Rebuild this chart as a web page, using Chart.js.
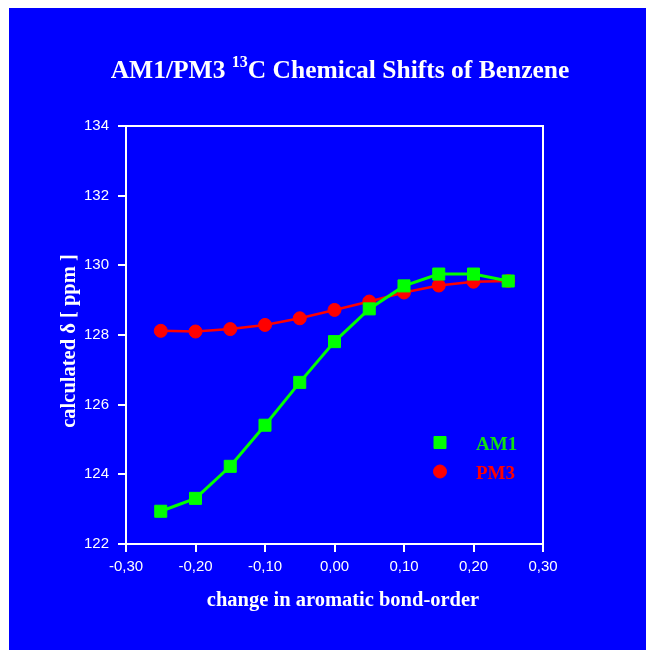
<!DOCTYPE html>
<html>
<head>
<meta charset="utf-8">
<script src="https://cdn.jsdelivr.net/npm/chart.js@4.4.0/dist/chart.umd.min.js"></script>
<style>
  html, body { margin: 0; padding: 0; background: #ffffff; }
  canvas { display: block; }
</style>
</head>
<body>
<canvas id="shifts" width="646" height="650"></canvas>
<script>
// change in aromatic bond-order
const bondOrder = [-0.25, -0.20, -0.15, -0.10, -0.05, 0.00, 0.05, 0.10, 0.15, 0.20, 0.25];
// calculated 13C shifts (ppm)
const am1Shift = [122.94, 123.31, 124.23, 125.41, 126.64, 127.81, 128.75, 129.41, 129.75, 129.75, 129.55];
const pm3Shift = [128.12, 128.10, 128.17, 128.29, 128.48, 128.72, 128.96, 129.22, 129.42, 129.53, 129.55];
const xTicks = [-0.30, -0.20, -0.10, 0.00, 0.10, 0.20, 0.30];
const yTicks = [122, 124, 126, 128, 130, 132, 134];

const BLUE = '#0000ff';
const GREEN = '#00ff00';
const RED = '#ff0000';
const SERIF = '"Liberation Serif", "Times New Roman", serif';
const SANS = '"Liberation Sans", Arial, sans-serif';

const toPoints = (ys) => bondOrder.map((x, i) => ({ x: x, y: ys[i] }));

// blue backdrop, frame, titles and legend
const decorPlugin = {
  id: 'decor',
  beforeDraw(chart) {
    const ctx = chart.ctx;
    ctx.save();
    ctx.fillStyle = BLUE;
    ctx.fillRect(9, 8, chart.width - 9, chart.height - 8);
    ctx.restore();
  },
  afterDraw(chart) {
    const ctx = chart.ctx;
    const area = chart.chartArea;
    ctx.save();

    // top and right frame lines
    ctx.strokeStyle = '#ffffff';
    ctx.lineWidth = 2;
    ctx.beginPath();
    ctx.moveTo(area.left, area.top);
    ctx.lineTo(area.right, area.top);
    ctx.lineTo(area.right, area.bottom);
    ctx.stroke();

    // main title with superscript
    ctx.fillStyle = '#ffffff';
    ctx.textBaseline = 'alphabetic';
    ctx.textAlign = 'left';
    const big = 'bold 25.5px ' + SERIF;
    const small = 'bold 16px ' + SERIF;
    const p1 = 'AM1/PM3 ', sup = '13', p2 = 'C Chemical Shifts of Benzene';
    ctx.font = big;
    const w1 = ctx.measureText(p1).width;
    const w3 = ctx.measureText(p2).width;
    ctx.font = small;
    const w2 = ctx.measureText(sup).width;
    let x = 340 - (w1 + w2 + w3) / 2;
    ctx.font = big;
    ctx.fillText(p1, x, 78);
    x += w1;
    ctx.font = small;
    ctx.fillText(sup, x, 67);
    x += w2;
    ctx.font = big;
    ctx.fillText(p2, x, 78);

    // axis titles
    ctx.font = 'bold 20.5px ' + SERIF;
    ctx.textAlign = 'center';
    ctx.fillText('change in aromatic bond-order', 343, 606);
    ctx.save();
    ctx.translate(75, 341);
    ctx.rotate(-Math.PI / 2);
    ctx.fillText('calculated \u03b4 [ ppm ]', 0, 0);
    ctx.restore();

    // legend
    const items = [
      { ds: 0, y: 442.5, text: 'AM1', color: '#10e010' },
      { ds: 1, y: 471.5, text: 'PM3', color: RED }
    ];
    ctx.font = 'bold 19px ' + SERIF;
    ctx.textAlign = 'left';
    items.forEach(item => {
      const ds = chart.data.datasets[item.ds];
      ctx.fillStyle = ds.pointBackgroundColor;
      ctx.strokeStyle = ds.pointBorderColor;
      ctx.lineWidth = 1;
      Chart.helpers.drawPoint(ctx, {
        pointStyle: ds.pointStyle,
        radius: ds.pointRadius,
        rotation: 0,
        borderWidth: 1
      }, 440, item.y);
      ctx.fillStyle = item.color;
      ctx.fillText(item.text, 476, item.y + 7.5);
    });

    ctx.restore();
  }
};

const fmtComma = (v) => {
  const n = Math.abs(v) < 1e-9 ? 0 : v;
  return n.toFixed(2).replace('.', ',');
};

new Chart(document.getElementById('shifts'), {
  type: 'scatter',
  data: {
    datasets: [
      {
        label: 'AM1',
        data: toPoints(am1Shift),
        showLine: true,
        borderColor: GREEN,
        borderWidth: 3,
        backgroundColor: GREEN,
        pointStyle: 'rect',
        pointRadius: 8.5,
        pointBackgroundColor: GREEN,
        pointBorderColor: GREEN,
        pointBorderWidth: 1,
        tension: 0
      },
      {
        label: 'PM3',
        data: toPoints(pm3Shift),
        showLine: true,
        borderColor: RED,
        borderWidth: 2.5,
        backgroundColor: RED,
        pointStyle: 'circle',
        pointRadius: 6.5,
        pointBackgroundColor: RED,
        pointBorderColor: RED,
        pointBorderWidth: 1,
        tension: 0
      }
    ]
  },
  options: {
    responsive: false,
    animation: false,
    devicePixelRatio: 1,
    layout: {
      padding: { top: 126, right: 103, bottom: 0, left: 0 }
    },
    plugins: {
      legend: { display: false },
      title: { display: false },
      tooltip: { enabled: false }
    },
    scales: {
      x: {
        type: 'linear',
        min: -0.3,
        max: 0.3,
        afterFit(scale) { scale.height = 106; },
        afterBuildTicks(scale) { scale.ticks = xTicks.map(v => ({ value: v })); },
        grid: { drawOnChartArea: false, color: '#ffffff', lineWidth: 2, tickLength: 8 },
        border: { color: '#ffffff', width: 2 },
        ticks: {
          color: '#ffffff',
          padding: 6,
          maxRotation: 0,
          font: { family: SANS, size: 15 },
          callback: fmtComma
        }
      },
      y: {
        type: 'linear',
        min: 122,
        max: 134,
        afterFit(scale) { scale.width = 126; },
        afterBuildTicks(scale) { scale.ticks = yTicks.map(v => ({ value: v })); },
        grid: { drawOnChartArea: false, color: '#ffffff', lineWidth: 2, tickLength: 8 },
        border: { color: '#ffffff', width: 2 },
        ticks: {
          color: '#ffffff',
          padding: 9,
          font: { family: SANS, size: 15 },
          callback: (v) => String(v)
        }
      }
    }
  },
  plugins: [decorPlugin]
});
</script>
</body>
</html>
